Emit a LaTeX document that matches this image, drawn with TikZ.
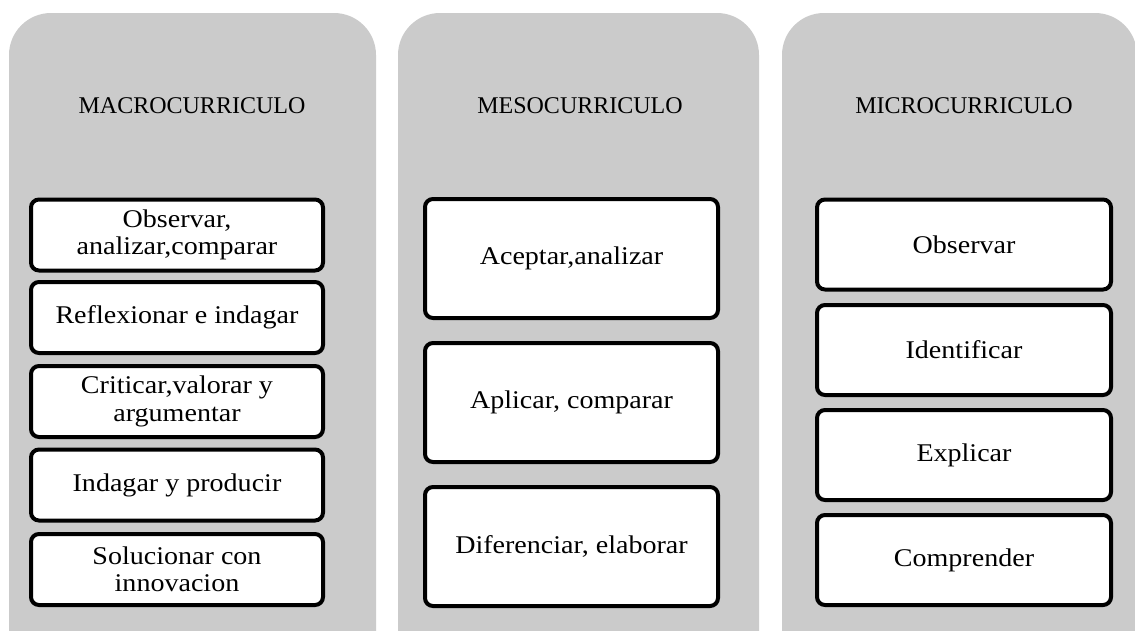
\documentclass[tikz,border=0pt]{standalone}
\usepackage{fontspec}
\setmainfont{Liberation Serif}
\newfontfamily\itemfont[FakeStretch=1.1]{Liberation Serif}
\begin{document}
\begin{tikzpicture}[x=1pt,y=-1pt,
  panel/.style={fill=panelgray, draw=none, rounded corners=42pt},
  title/.style={font=\fontsize{24}{28}\selectfont, text=black},
  item/.style={draw=black, fill=white, line width=4pt, rounded corners=8pt,
    inner sep=0pt, align=center, font=\itemfont\fontsize{25.5}{27.5}\selectfont}]
\definecolor{panelgray}{HTML}{CBCBCB}
\useasboundingbox (0,0) rectangle (1135,630);
\clip (0,0) rectangle (1135,630);
% panels
\path[panel] (9,13) rectangle (376,680);
\path[panel] (398,13) rectangle (759,680);
\path[panel] (782,13) rectangle (1137,680);
% titles
\node[title] (t1) at (192,106) {MACROCURRICULO};
\node[title] (t2) at (580,106) {MESOCURRICULO};
\node[title] (t3) at (964,106) {MICROCURRICULO};
% left column
\node[item, minimum width=292pt, minimum height=71pt] (a1) at (177,235) {Observar,\\analizar,comparar};
\node[item, minimum width=292pt, minimum height=71pt] (a2) at (177,317.5) {Reflexionar e indagar};
\node[item, minimum width=292pt, minimum height=71pt] (a3) at (177,401.5) {Criticar,valorar y\\argumentar};
\node[item, minimum width=292pt, minimum height=71pt] (a4) at (177,485) {Indagar y producir};
\node[item, minimum width=292pt, minimum height=71pt] (a5) at (177,569.5) {Solucionar con\\innovacion};
% middle column
\node[item, minimum width=293pt, minimum height=119pt] (b1) at (571.5,258.5) {Aceptar,analizar};
\node[item, minimum width=293pt, minimum height=119pt] (b2) at (571.5,402.5) {Aplicar, comparar};
\node[item, minimum width=293pt, minimum height=119pt] (b3) at (571.5,546.5) {Diferenciar, elaborar};
% right column
\node[item, minimum width=294pt, minimum height=90pt] (c1) at (964,244.5) {Observar};
\node[item, minimum width=294pt, minimum height=90pt] (c2) at (964,350) {Identificar};
\node[item, minimum width=294pt, minimum height=90pt] (c3) at (964,455) {Explicar};
\node[item, minimum width=294pt, minimum height=90pt] (c4) at (964,560) {Comprender};
\end{tikzpicture}
\end{document}
